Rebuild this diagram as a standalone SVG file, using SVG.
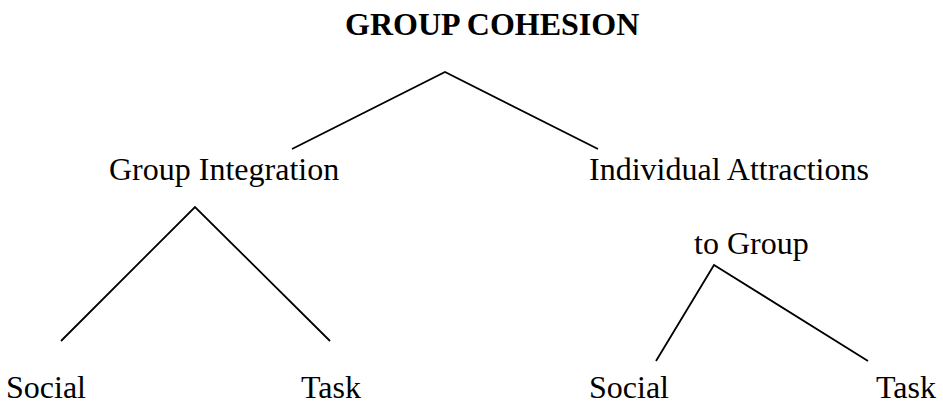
<svg xmlns="http://www.w3.org/2000/svg" width="943" height="405" viewBox="0 0 943 405">
<style>
.t{font-family:"Liberation Serif","Times New Roman",serif;font-size:32px;fill:#000}
.b{font-weight:bold}
.c{stroke:#000;stroke-width:1.8;fill:none}
</style>
<rect width="943" height="405" fill="#fff"/>
<g id="n-cohesion"><text class="t b" x="345" y="35">GROUP COHESION</text></g>
<g id="n-integration"><text class="t" x="109" y="180">Group Integration</text></g>
<g id="n-attractions"><text class="t" x="589" y="180">Individual Attractions</text><text class="t" x="694" y="254">to Group</text></g>
<g id="n-gi-social"><text class="t" x="6" y="398">Social</text></g>
<g id="n-gi-task"><text class="t" x="301" y="398">Task</text></g>
<g id="n-ia-social"><text class="t" x="589" y="398">Social</text></g>
<g id="n-ia-task"><text class="t" x="876" y="398">Task</text></g>
<g id="connectors">
<polyline class="c" points="292,149 445,72 598,149"/>
<polyline class="c" points="61,341 195,207 330,341"/>
<polyline class="c" points="656,361 714,265 868,361"/>
</g>
</svg>
